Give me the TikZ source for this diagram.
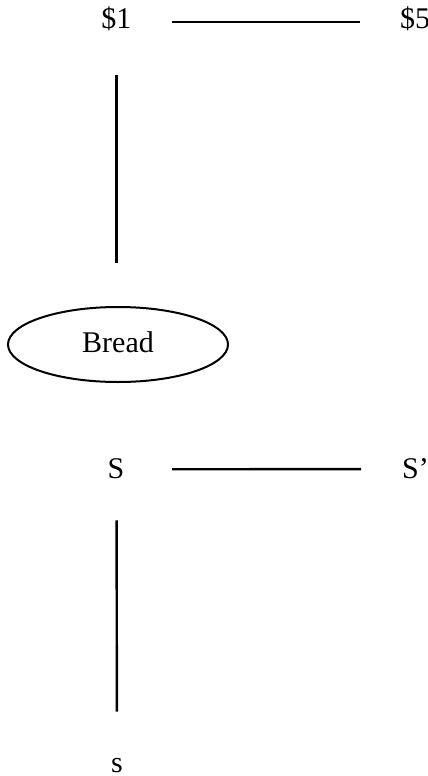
\documentclass[tikz,border=0pt]{standalone}
\usepackage{fontspec}
\setmainfont{Liberation Serif}
\usetikzlibrary{shapes.geometric}
\begin{document}
\begin{tikzpicture}[x=1pt,y=1pt,
  lbl/.style={inner sep=0pt, font=\fontsize{30}{34}\selectfont},
  conn/.style={line width=2.4pt},
  oval/.style={ellipse, draw, line width=2pt, minimum width=220pt, minimum height=75pt, inner sep=0pt, text height=20pt, text depth=5pt, font=\fontsize{30}{34}\selectfont}]
\useasboundingbox (0,0) rectangle (428,-776);
\node[lbl, anchor=base] (d1) at (116.4,-29) {\$1};
\node[lbl, anchor=base west] (d5) at (400,-29) {\$5};
\node[oval] (bread) at (118,-344.5) {Bread};
\node[lbl, anchor=base] (S) at (116,-478) {S};
\node[lbl, anchor=base west] (Sp) at (402,-478) {S'};
\node[lbl, anchor=base] (s) at (117,-772) {s};
\draw[conn, shorten <=40.6pt, shorten >=40pt] ([yshift=-2.5pt]d1.east) -- ([yshift=-2.5pt]d5.west);
\draw[conn, shorten <=44pt, shorten >=43pt] ([xshift=0.1pt]d1.south) -- ([xshift=-1.5pt]bread.north);
\draw[conn, shorten <=47.7pt, shorten >=41pt] ([yshift=-1pt]S.east) -- ([yshift=-1pt]Sp.west);
\draw[conn, shorten <=42pt, shorten >=46pt] ([xshift=0.5pt]S.south) -- (s.north);
\end{tikzpicture}
\end{document}
